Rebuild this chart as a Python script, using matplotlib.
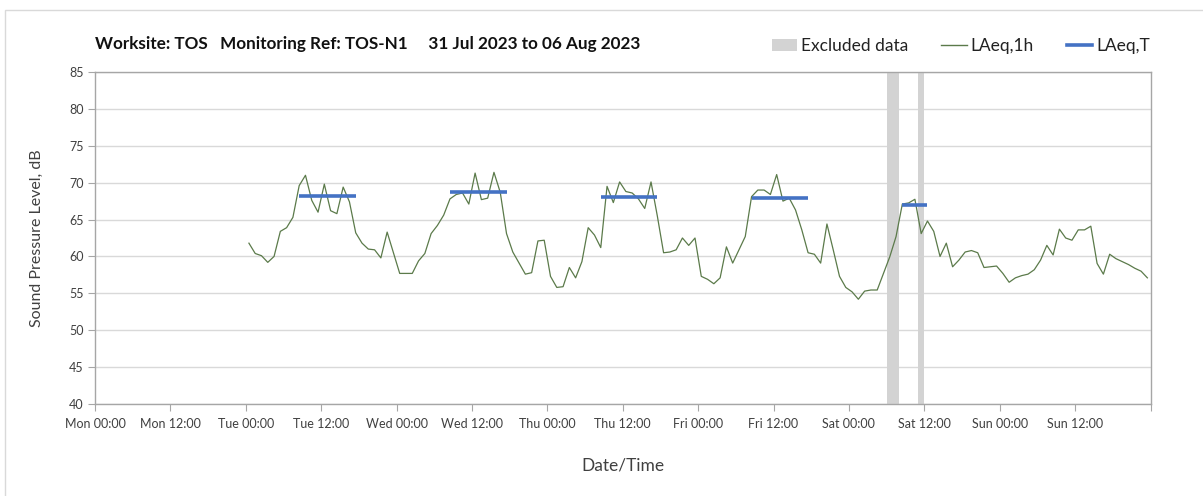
import matplotlib
matplotlib.use("Agg")
import matplotlib.pyplot as plt
import matplotlib.dates as mdates
from matplotlib.lines import Line2D
from matplotlib.patches import Patch, Rectangle
import pandas as pd
import numpy as np

# ---------------- data ----------------
title = "Worksite: TOS   Monitoring Ref: TOS-N1     31 Jul 2023 to 06 Aug 2023"
axis_start = "2023-07-31 00:00"
axis_end = "2023-08-07 00:00"
data_start = "2023-08-01 00:30"   # hourly LAeq,1h values

laeq_tue = [61.8, 60.4, 60.1, 59.2, 60.0, 63.4, 63.9, 65.3, 69.6, 71.0, 67.6, 66.0,
            69.8, 66.2, 65.8, 69.4, 67.4, 63.2, 61.8, 61.0, 60.9, 59.8, 63.3, 60.5]
laeq_wed = [57.7, 57.7, 57.7, 59.4, 60.4, 63.1, 64.2, 65.6, 67.8, 68.4, 68.6, 67.1,
            71.3, 67.7, 67.9, 71.4, 68.7, 63.1, 60.6, 59.1, 57.6, 57.8, 62.1, 62.2]
laeq_thu = [57.3, 55.8, 55.9, 58.5, 57.1, 59.3, 63.9, 62.9, 61.2, 69.5, 67.3, 70.1,
            68.8, 68.6, 67.8, 66.5, 70.1, 65.5, 60.5, 60.6, 60.9, 62.5, 61.5, 62.5]
laeq_fri = [57.3, 56.9, 56.3, 57.1, 61.3, 59.1, 60.9, 62.7, 68.1, 69.0, 69.0, 68.4,
            71.1, 67.5, 67.9, 66.3, 63.6, 60.5, 60.3, 59.1, 64.4, 60.9, 57.3, 55.8]
laeq_sat = [55.2, 54.2, 55.3, 55.45, 55.45, 57.7, 59.95, 62.7, 67.1, 67.25, 67.75, 63.1,
            64.8, 63.4, 60.0, 61.8, 58.6, 59.5, 60.6, 60.8, 60.5, 58.5, 58.6, 58.7]
laeq_sun = [57.7, 56.5, 57.1, 57.4, 57.6, 58.2, 59.5, 61.5, 60.2, 63.7, 62.5, 62.2,
            63.6, 63.6, 64.1, 59.05, 57.6, 60.3, 59.7, 59.3, 58.9, 58.4, 58.0, 57.1]

# LAeq,T periods (start, end of plotted segment) and levels
laeqT_start = ["2023-08-01 08:30", "2023-08-02 08:30", "2023-08-03 08:30",
               "2023-08-04 08:30", "2023-08-05 08:30"]
laeqT_end = ["2023-08-01 17:30", "2023-08-02 17:30", "2023-08-03 17:30",
             "2023-08-04 17:30", "2023-08-05 12:30"]
laeqT_level = [68.2, 68.8, 68.1, 67.9, 67.0]

# Excluded data periods
excl_start = ["2023-08-05 06:00", "2023-08-05 11:00"]
excl_end = ["2023-08-05 08:00", "2023-08-05 12:00"]

# ---------------- style ----------------
plt.rcParams['font.family'] = ['Lato', 'DejaVu Sans']
GREEN = '#5b7a4a'
BLUE = '#4472c4'
GREY_BAR = '#d3d3d3'
GRID = '#d9d9d9'
SPINE = '#a6a6a6'
TXT = '#404040'

W, H = 1203, 496
fig = plt.figure(figsize=(W / 100, H / 100), dpi=100)
ax = fig.add_axes([95 / W, 1 - 404 / H, (1150.5 - 95) / W, (404 - 72) / H])

values = laeq_tue + laeq_wed + laeq_thu + laeq_fri + laeq_sat + laeq_sun
times = pd.date_range(data_start, periods=len(values), freq="h")

for s, e in zip(excl_start, excl_end):
    ax.axvspan(pd.Timestamp(s), pd.Timestamp(e), color=GREY_BAR, lw=0, zorder=1)

ax.plot(times, values, color=GREEN, lw=0.9, zorder=3)

for s, e, v in zip(laeqT_start, laeqT_end, laeqT_level):
    ax.hlines(v, pd.Timestamp(s), pd.Timestamp(e), color=BLUE, lw=2.6, zorder=4)

ax.set_xlim(pd.Timestamp(axis_start), pd.Timestamp(axis_end))
ax.set_ylim(40, 85)
ax.set_yticks(np.arange(40, 86, 5))

ticks = pd.date_range(axis_start, axis_end, freq="12h")
ax.set_xticks(ticks)
ax.set_xticklabels([t.strftime("%a %H:%M") for t in ticks[:-1]] + [""])
ax.xaxis.set_minor_locator(mdates.DayLocator())

ax.grid(which='major', axis='y', color=GRID, lw=1, zorder=0)
ax.grid(which='minor', axis='x', color=GRID, lw=1, zorder=0)
ax.set_axisbelow(True)

for sp in ax.spines.values():
    sp.set_color(SPINE)
    sp.set_linewidth(1)

ax.tick_params(which='major', direction='out', length=5, color=SPINE,
               labelsize=9, labelcolor=TXT)
ax.tick_params(axis='x', which='major', pad=5)
ax.tick_params(axis='y', which='major', pad=3)
ax.tick_params(which='minor', length=0)

ax.set_ylabel("Sound Pressure Level, dB", fontsize=11.5, color=TXT, labelpad=18)
ax.set_xlabel("Date/Time", fontsize=12.5, color=TXT, labelpad=20)

fig.text(95 / W, 1 - 44 / H, title, fontsize=12.3, fontweight='bold',
         color='#111111', va='center', ha='left')

handles = [Patch(facecolor=GREY_BAR, edgecolor='none'),
           Line2D([], [], color=GREEN, lw=1),
           Line2D([], [], color=BLUE, lw=2.6)]
fig.legend(handles, ["Excluded data", "LAeq,1h", "LAeq,T"], ncol=3,
           loc='center right', bbox_to_anchor=(1166 / W, 1 - 46 / H),
           frameon=False, fontsize=12.5, handlelength=1.45, handleheight=0.75,
           handletextpad=0.25, columnspacing=1.9, labelcolor='#222222')

# outer border
fig.patches.append(Rectangle((5 / W, -0.05), 1.1, 1 - 10 / H + 0.05,
                             transform=fig.transFigure, fill=False,
                             edgecolor='#d9d9d9', lw=1))

fig.savefig("out.png", dpi=100)
